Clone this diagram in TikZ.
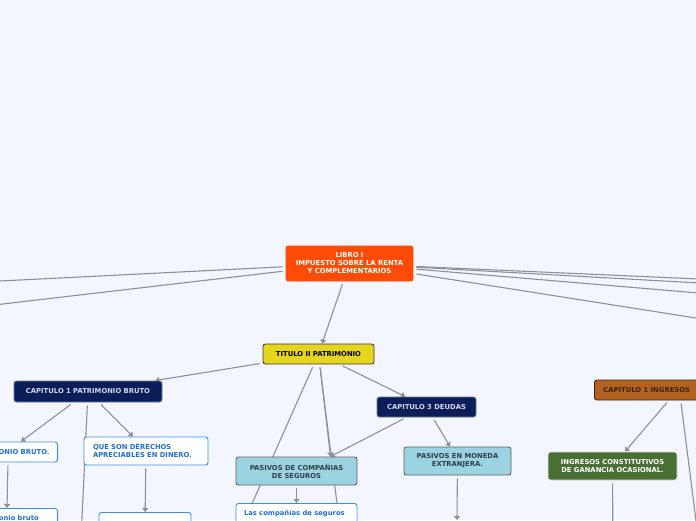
\documentclass[tikz,border=0pt]{standalone}
\usepackage{fontspec}
\setmainfont{DejaVu Sans}
\usetikzlibrary{arrows.meta}
\pgfdeclarelayer{back}
\pgfdeclarelayer{edges}
\pgfsetlayers{back,edges,main}
\definecolor{pagebg}{HTML}{F3F6FE}
\definecolor{linkgray}{HTML}{8D9097}
\definecolor{rootfill}{HTML}{FF4B05}
\definecolor{yellowfill}{HTML}{E5D51F}
\definecolor{navyfill}{HTML}{0C1E5A}
\definecolor{navyline}{HTML}{6A7898}
\definecolor{navytext}{HTML}{D3D9E8}
\definecolor{lightfill}{HTML}{9CD3E1}
\definecolor{lighttext}{HTML}{2D3E48}
\definecolor{brownfill}{HTML}{B2611E}
\definecolor{browntext}{HTML}{3A2410}
\definecolor{greenfill}{HTML}{4A6F34}
\definecolor{bluetext}{HTML}{1E70D6}
\definecolor{blueline}{HTML}{3A8EEA}
\definecolor{darkline}{HTML}{3A3A3A}

\begin{document}
\begin{tikzpicture}[x=1pt,y=-1pt,
        box/.style={rounded corners=2.5pt,line width=0.9pt,inner xsep=6pt,inner ysep=2pt,align=center,
            font=\fontsize{6.8}{8}\selectfont\bfseries},
        rootbox/.style={box,fill=rootfill,draw=rootfill,text=white},
        yellowbox/.style={box,fill=yellowfill,draw=darkline,text=black},
        navybox/.style={box,fill=navyfill,draw=navyline,text=navytext,minimum height=21pt},
        lightbox/.style={box,fill=lightfill,draw=darkline!80,text=lighttext,minimum height=28pt},
        brownbox/.style={box,fill=brownfill,draw=browntext,text=browntext,minimum height=20pt},
        greenbox/.style={box,fill=greenfill,draw=white!80!greenfill,text=white,minimum height=28pt},
        whitebox/.style={box,fill=white,draw=blueline,text=bluetext,inner xsep=8pt},
        link/.style={draw=linkgray,line width=1.1pt,shorten <=3pt},
        arr/.style={link,-{Triangle[width=6pt,length=4pt]}}]
    \useasboundingbox (0,0) rectangle (696,520);
    \begin{pgfonlayer}{back}
        \fill[pagebg] (0,0) rectangle (696,520);
    \end{pgfonlayer}

    \node[rootbox,minimum width=127pt,minimum height=35pt] (libro) at (349.5,263.5) {LIBRO I\\IMPUESTO SOBRE LA RENTA\\Y COMPLEMENTARIOS};
    \node[yellowbox,minimum width=111pt,minimum height=20pt] (titulo) at (318.5,354) {TITULO II PATRIMONIO};
    \node[navybox,minimum width=148pt] (cappat) at (88,391.5) {CAPITULO 1 PATRIMONIO BRUTO};
    \node[navybox,minimum width=99pt,minimum height=20pt] (deudas) at (426.5,407) {CAPITULO 3 DEUDAS};
    \node[brownbox,anchor=west,inner xsep=9pt] (ingresos) at (594,390) {CAPITULO 1 INGRESOS};

    \node[whitebox,anchor=east,minimum height=20pt] (patbruto) at (58,452) {PATRIMONIO BRUTO.};
    \node[whitebox,align=left,text width=106pt,inner xsep=9pt,minimum height=28pt] (derechos) at (146,451) {QUE SON DERECHOS\\APRECIABLES EN DINERO.};
    \node[lightbox,minimum width=121pt] (seguros) at (296.5,471) {PASIVOS DE COMPAÑIAS\\DE SEGUROS};
    \node[lightbox,minimum width=107pt] (moneda) at (457.5,461) {PASIVOS EN MONEDA\\EXTRANJERA.};
    \node[greenbox,minimum width=129pt] (ganancia) at (612.5,466) {INGRESOS CONSTITUTIVOS\\DE GANANCIA OCASIONAL.};

    \node[whitebox,anchor=north east,align=left,text width=76pt,inner ysep=7pt] (concepto) at (58,508) {Patrimonio bruto};
    \node[whitebox,anchor=north,minimum width=92pt,minimum height=24pt] (dinero) at (145,512) {};
    \node[whitebox,anchor=north,align=left,text width=105pt,inner ysep=7pt] (companias) at (296.5,503) {Las compañías de seguros};

    \path (-100,286) coordinate (w1) (-100,316) coordinate (w2)
          (800,283.5) coordinate (e1) (800,288.6) coordinate (e2)
          (800,301.6) coordinate (e3) (800,334.4) coordinate (e4)
          (227,560) coordinate (s1) (344,560) coordinate (s2)
          (80,560) coordinate (c1) (457,520) coordinate (m1)
          (701,560) coordinate (g1) (613,560) coordinate (g2);

    \begin{pgfonlayer}{edges}
        \draw[link] (libro) -- (w1);
        \draw[link] (libro) -- (w2);
        \draw[link] (libro) -- (e1);
        \draw[link] (libro) -- (e2);
        \draw[link] (libro) -- (e3);
        \draw[link] (libro) -- (e4);
        \draw[arr] (libro) -- (titulo);
        \draw[arr] (titulo) -- (cappat);
        \draw[arr] (titulo) -- (deudas);
        \draw[arr] (titulo) -- (seguros.23);
        \draw[link] (titulo) -- (s1);
        \draw[link] (titulo) -- (s2);
        \draw[arr] (deudas) -- (seguros.23);
        \draw[arr] (deudas) -- ([xshift=-7.5pt]moneda.north);
        \draw[arr] (moneda) -- (m1);
        \draw[arr] (seguros) -- (companias);
        \draw[arr] (cappat) -- ([xshift=-37pt]patbruto.north east);
        \draw[arr] (cappat) -- ([xshift=-13pt]derechos.north);
        \draw[link] (cappat) -- (c1);
        \draw[arr] ([xshift=-50pt]patbruto.south east) -- ([xshift=-51pt]concepto.north east);
        \draw[arr] (derechos) -- (dinero);
        \draw[arr] ([xshift=22pt]ingresos.south) -- ([xshift=12.5pt]ganancia.north);
        \draw[link] ([xshift=34pt]ingresos.south) -- (g1);
        \draw[link] (ganancia) -- (g2);
    \end{pgfonlayer}
\end{tikzpicture}
\end{document}
